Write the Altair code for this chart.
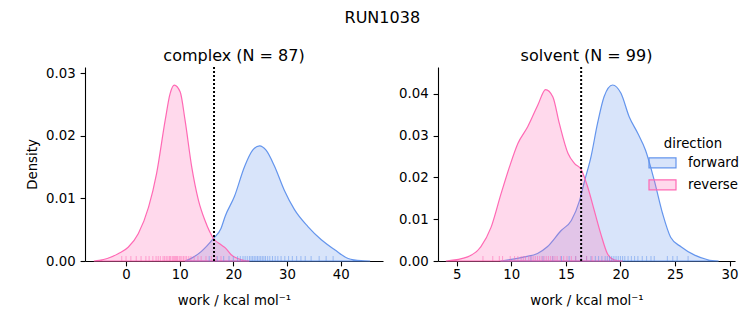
import altair as alt
import pandas as pd

# ---------------- data ----------------
# KDE curves (work in kcal/mol, density)
cx_fwd_work = [11.0, 12.3, 14.0, 16.3, 17.7, 18.5, 20.2, 22.1, 23.6, 24.9, 26.1, 27.7, 29.5, 31.4, 33.9, 36.4, 38.9, 41.4, 43.8, 45.5]
cx_fwd_dens = [0.0, 0.0005, 0.0015, 0.0036, 0.0052, 0.0072, 0.0103, 0.0151, 0.0177, 0.0184, 0.0177, 0.0151, 0.0113, 0.0082, 0.0055, 0.0034, 0.0018, 0.0004, 0.00005, 0.0]

cx_rev_work = [-6.0, -5.0, -3.5, -1.4, 0.4, 2.3, 4.2, 5.7, 7.3, 8.2, 9.0, 10.1, 11.0, 12.25, 13.5, 14.7, 16.3, 17.7, 18.5, 19.6, 20.3, 21.5, 23.0]
cx_rev_dens = [0.0, 0.0001, 0.0004, 0.0012, 0.0022, 0.0044, 0.0086, 0.0140, 0.0225, 0.0267, 0.0281, 0.0270, 0.0225, 0.0150, 0.0097, 0.0065, 0.0036, 0.0026, 0.0021, 0.0010, 0.0006, 0.0002, 0.0]

sv_fwd_work = [9.0, 11.2, 12.4, 13.3, 14.57, 15.5, 16.26, 16.7, 17.3, 17.9, 18.5, 19.28, 20.05, 20.8, 21.6, 22.3, 23.1, 23.87, 24.6, 25.55, 26.8, 28.0, 29.0]
sv_fwd_dens = [0.0, 0.0010, 0.0018, 0.0034, 0.0073, 0.0097, 0.0145, 0.0190, 0.0249, 0.0329, 0.0393, 0.0421, 0.0401, 0.0345, 0.0305, 0.0265, 0.0193, 0.0113, 0.0057, 0.0034, 0.0014, 0.0003, 0.0]

sv_rev_work = [4.0, 6.0, 7.2, 8.15, 9.06, 9.83, 10.6, 11.5, 12.43, 13.14, 13.8, 14.4, 15.2, 15.8, 16.4, 17.0, 17.6, 18.2, 18.8, 19.4, 20.2]
sv_rev_dens = [0.0, 0.0010, 0.0034, 0.0081, 0.0161, 0.0225, 0.0281, 0.0321, 0.0373, 0.0410, 0.0393, 0.0329, 0.0257, 0.0233, 0.0219, 0.0177, 0.0121, 0.0065, 0.0018, 0.0003, 0.0]

# rug (individual work values)
cx_fwd_rug = [15.5, 17.0, 18.2, 19.2, 20.0, 20.8, 21.3, 21.8, 22.2, 22.6, 23.0, 23.3, 23.6, 23.9, 24.2, 24.5, 24.8, 25.1, 25.4, 25.7, 26.0, 26.4, 26.8, 27.3, 27.8, 28.3, 28.9, 29.6, 30.3, 31.0, 31.8, 32.6, 33.4, 34.5, 36.0, 37.3, 38.6]
cx_rev_rug = [-0.8, 0.0, 0.9, 1.9, 2.8, 3.7, 4.3, 5.0, 5.6, 6.0, 6.4, 6.9, 7.2, 7.5, 7.8, 8.1, 8.3, 8.6, 8.8, 9.0, 9.2, 9.4, 9.6, 9.9, 10.1, 10.4, 10.7, 11.0, 11.3, 11.7, 12.1, 12.7, 13.4, 14.0, 14.9, 15.9, 16.8, 17.7]
sv_fwd_rug = [11.8, 12.9, 13.8, 14.6, 15.3, 15.9, 16.4, 16.9, 17.3, 17.7, 18.0, 18.3, 18.6, 18.8, 19.0, 19.2, 19.4, 19.6, 19.8, 20.0, 20.2, 20.4, 20.7, 21.0, 21.3, 21.6, 22.0, 22.4, 22.8, 23.1, 24.3, 24.8, 25.2, 26.2]
sv_rev_rug = [7.4, 8.3, 8.9, 9.2, 9.9, 10.3, 10.6, 10.9, 11.1, 11.3, 11.6, 11.8, 12.0, 12.2, 12.4, 12.6, 12.8, 13.0, 13.2, 13.4, 13.6, 13.8, 14.0, 14.2, 14.5, 14.8, 15.1, 15.5, 15.9, 16.4, 16.9, 17.4]

reference_line = 16.4
directions = ["forward", "reverse"]
colors = ["#6495ED", "#FF69B4"]
fill_colors = ["rgba(100,149,237,0.25)", "rgba(255,105,180,0.25)"]

cx_xticks = [0, 10, 20, 30, 40]
sv_xticks = [5, 10, 15, 20, 25, 30]
cx_yticks = [0.0, 0.01, 0.02, 0.03]
sv_yticks = [0.0, 0.01, 0.02, 0.03, 0.04]

W1, W2, H = 298, 297, 194


def curves(fw, fd, rw, rd):
    return pd.concat([
        pd.DataFrame({"work": fw, "density": fd, "direction": "forward"}),
        pd.DataFrame({"work": rw, "density": rd, "direction": "reverse"}),
    ])


def rugs(f, r):
    return pd.concat([
        pd.DataFrame({"work": f, "direction": "forward"}),
        pd.DataFrame({"work": r, "direction": "reverse"}),
    ])


cscale = alt.Scale(domain=directions, range=colors)
fscale = alt.Scale(domain=directions, range=fill_colors)

legend = alt.Legend(
    orient="none", legendX=563, legendY=70, title="direction",
    titleAnchor="middle", titleFontWeight="normal", titleFontSize=13.3,
    labelFontSize=13.3, symbolType="M-1,-0.37H1V0.37H-1Z", symbolSize=729,
    symbolStrokeWidth=1.2, labelOffset=11, rowPadding=-4.4, titlePadding=-2,
)


def panel(cdf, rdf, xdom, xticks, ydom, yticks, title, ytitle, width):
    xenc = alt.X("work:Q", scale=alt.Scale(domain=xdom, nice=False, zero=False),
                 axis=alt.Axis(values=xticks, title="work / kcal mol⁻¹",
                               labelPadding=1.4, titlePadding=12.5))
    area = alt.Chart(cdf).mark_area(
        strokeWidth=1.2, interpolate="monotone"
    ).encode(
        x=xenc,
        y=alt.Y("density:Q", stack=None,
                scale=alt.Scale(domain=ydom, nice=False),
                axis=alt.Axis(values=yticks, format=".2f", title=ytitle)),
        fill=alt.Fill("direction:N", scale=fscale, legend=legend),
        stroke=alt.Stroke("direction:N", scale=cscale, legend=legend),
    )
    rug = alt.Chart(rdf).mark_rule(strokeWidth=1, opacity=0.55).encode(
        x=alt.X("work:Q"),
        y=alt.value(H), y2=alt.value(H - 5),
        color=alt.Color("direction:N", scale=cscale, legend=None),
    )
    vline = alt.Chart(pd.DataFrame({"work": [reference_line]})).mark_rule(
        color="black", strokeWidth=2, strokeDash=[2, 2]
    ).encode(x="work:Q")
    return alt.layer(area, rug, vline).properties(
        width=width, height=H,
        title=alt.TitleParams(title, fontSize=16, fontWeight="normal", offset=2),
    )


left = panel(curves(cx_fwd_work, cx_fwd_dens, cx_rev_work, cx_rev_dens),
             rugs(cx_fwd_rug, cx_rev_rug), [-7.65, 47.9], cx_xticks,
             [0, 0.031], cx_yticks, "complex (N = 87)", "Density", W1)
right = panel(curves(sv_fwd_work, sv_fwd_dens, sv_rev_work, sv_rev_dens),
              rugs(sv_fwd_rug, sv_rev_rug), [3.28, 30.5], sv_xticks,
              [0, 0.0464], sv_yticks, "solvent (N = 99)", None, W2)

chart = alt.hconcat(left, right, spacing=15).properties(
    title=alt.TitleParams("RUN1038", fontSize=16, fontWeight="normal", offset=22, anchor="middle"),
    padding={"left": 17, "top": 2, "right": 0, "bottom": 0},
).configure(font="DejaVu Sans").configure_view(stroke=None).configure_axis(
    labelFontSize=13.3, titleFontSize=13.3, titleFontWeight="normal",
    labelColor="black", titleColor="black", domainColor="black", tickColor="black",
    tickSize=4.9, labelPadding=4.9, domainWidth=1.1, tickWidth=1.1, grid=False,
    titlePadding=6, zindex=1,
).configure_legend(labelColor="black", titleColor="black")

chart.save("out.html", embed_options={"renderer": "svg", "actions": False})
